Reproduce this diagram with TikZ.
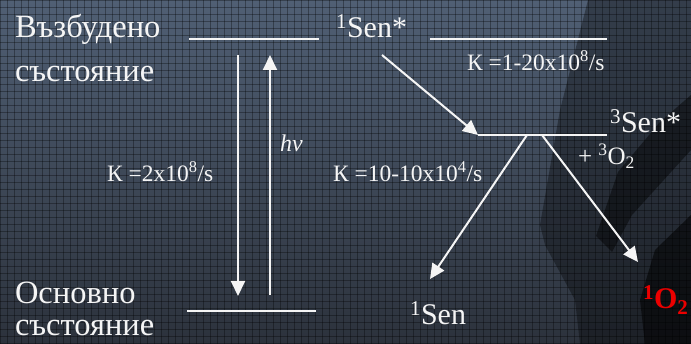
\documentclass[tikz,border=0pt]{standalone}
\usepackage{fontspec}
\setmainfont{Liberation Serif}
\usetikzlibrary{arrows.meta}
\definecolor{bgtop}{RGB}{80,95,116}
\definecolor{bgbot}{RGB}{44,50,60}
\definecolor{txt}{RGB}{245,245,245}
\definecolor{ored}{RGB}{235,0,0}
\begin{document}
\begin{tikzpicture}[x=1pt,y=-1pt,
  big/.style={inner sep=0pt,outer sep=0pt,anchor=base west,text=txt,font=\fontsize{30}{32}\selectfont},
  cyr/.style={big,font=\fontsize{32.5}{34}\selectfont},
  small/.style={inner sep=0pt,outer sep=0pt,anchor=base west,text=txt,font=\fontsize{23.5}{25}\selectfont},
  level/.style={draw=txt,line width=2pt},
  arr/.style={draw=txt,line width=2pt,-{Triangle[length=15pt,width=14pt]}},
  gridl/.style={draw=black,opacity=0.32,line width=0.8pt}]
% background
\fill[top color=bgtop,bottom color=bgbot] (0,0) rectangle (691,344);
\useasboundingbox (0,0) rectangle (691,344);
% dark shapes at right
\fill[black,opacity=0.35] (588,0) -- (691,0) -- (691,344) -- (580,344) -- (575,300) -- (545,245) -- (540,225) -- (560,110) -- cycle;
\fill[black,opacity=0.45] (691,95) -- (691,150) -- (632,215) -- (612,252) -- (596,236) -- (618,172) -- (660,122) -- cycle;
\fill[black,opacity=0.55] (655,250) -- (691,215) -- (691,344) -- (645,344) -- (640,300) -- cycle;
% grid
\foreach \i in {0,7,...,691} {\draw[gridl] (\i,0) -- (\i,344);}
\foreach \j in {0,7,...,344} {\draw[gridl] (0,\j) -- (691,\j);}
% texts
\node[cyr] (exc1) at (15,38) {Възбудено};
\node[cyr] (exc2) at (15,82) {състояние};
\node[cyr] (gnd1) at (15,304) {Основно};
\node[cyr] (gnd2) at (15,336) {състояние};
\node[big] (s1) at (336,38) {\textsuperscript{1}Sen*};
\node[big] (t1) at (610,133) {\textsuperscript{3}Sen*};
\node[big] (g1) at (410,325) {\textsuperscript{1}Sen};
\node[big,text=ored,font=\fontsize{30}{32}\selectfont\bfseries] (o2) at (643,309) {\textsuperscript{1}O\textsubscript{2}};
\node[small] (k1) at (467,71) {К =1-20x10\textsuperscript{8}/s};
\node[small] (k2) at (107,182) {К =2x10\textsuperscript{8}/s};
\node[small] (k3) at (333,182) {К =10-10x10\textsuperscript{4}/s};
\node[small,font=\fontsize{25}{27}\selectfont] (ox) at (578,165) {+ \textsuperscript{3}O\textsubscript{2}};
\node[small,font=\fontsize{24}{26}\selectfont\itshape] (hv) at (280,152) {hv};
% level coordinates
\coordinate (sA) at (189,39); \coordinate (sB) at (319,39);
\coordinate (sC) at (430,39); \coordinate (sD) at (607,39);
\coordinate (tA) at (478,135); \coordinate (tB) at (607,135);
\coordinate (gA) at (187,311); \coordinate (gB) at (316,311);
\draw[level] (sA) -- (sB);
\draw[level] (sC) -- (sD);
\draw[level] (tA) -- (tB);
\draw[level] (gA) -- (gB);
% transitions
\coordinate (dTop) at (238,55); \coordinate (dBot) at (238,296);
\coordinate (uBot) at (270,295); \coordinate (uTop) at (270,55);
\draw[arr] (dTop) -- (dBot);
\draw[arr] (uBot) -- (uTop);
\coordinate (iscS) at (382,55); \coordinate (iscE) at (478,135);
\draw[arr] (iscS) -- (iscE);
\coordinate (f1S) at (527,135); \coordinate (f1E) at (430,279);
\draw[arr] (f1S) -- (f1E);
\coordinate (f2S) at (542,135); \coordinate (f2E) at (638,262);
\draw[arr] (f2S) -- (f2E);
\end{tikzpicture}
\end{document}
